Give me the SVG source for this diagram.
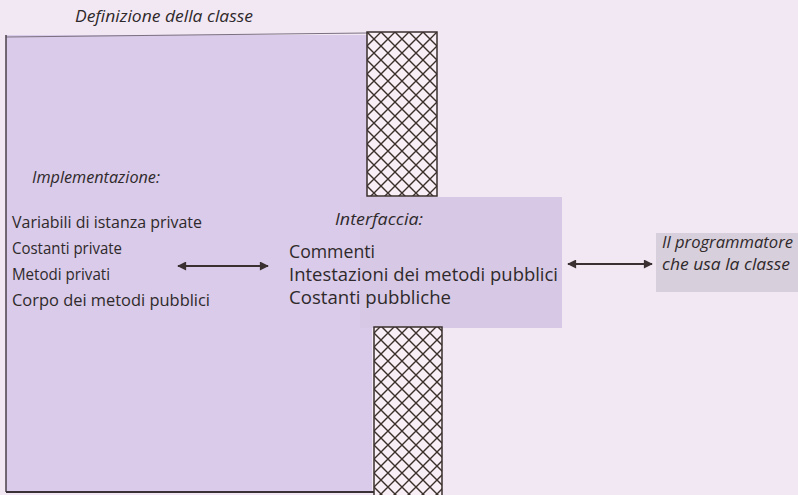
<svg xmlns="http://www.w3.org/2000/svg" width="798" height="495" viewBox="0 0 798 495">
  <style>
    .t { font-family: "Open Sans", "Noto Sans", "Liberation Sans", sans-serif; fill: #2f292b; }
    .it { font-style: italic; font-size: 16.5px; }
    .lst { font-size: 16.5px; }
    .ifc { font-size: 17.5px; }
    .col { fill: url(#hatch); stroke: #3a2f2c; stroke-width: 1.5; }
    .conn { stroke: #3a3032; stroke-width: 2; fill: none; marker-start: url(#ah); marker-end: url(#ah); }
  </style>
  <defs>
    <pattern id="hatch" patternUnits="userSpaceOnUse" x="367" y="32" width="14" height="14">
      <rect width="14" height="14" fill="#f7eef6"/>
      <path d="M0,0 L14,14 M14,0 L0,14" stroke="#3b2f2a" stroke-width="1.4"/>
    </pattern>
    <marker id="ah" viewBox="0 0 10 10" refX="9" refY="5" markerWidth="5.5" markerHeight="4.5" orient="auto-start-reverse" markerUnits="strokeWidth">
      <path d="M0,0 L10,5 L0,10 Z" fill="#3a3032"/>
    </marker>
  </defs>

  <rect width="798" height="495" fill="#f2e8f4"/>

  <g id="classe">
    <rect x="6" y="35" width="366" height="457" fill="#d9cbe9"/>
    <line x1="6" y1="37" x2="367" y2="33" stroke="#7a7080" stroke-width="1"/>
    <line x1="6" y1="35" x2="6" y2="492" stroke="#4a4048" stroke-width="1.5"/>
    <line x1="6" y1="492" x2="374" y2="492" stroke="#3a3038" stroke-width="2"/>
    <text class="t it" x="75" y="22" textLength="178" lengthAdjust="spacingAndGlyphs">Definizione della classe</text>
  </g>

  <g id="interfaccia">
    <rect x="360" y="197" width="202" height="131" fill="#d7c9e6"/>
    <text class="t it" x="335" y="225" textLength="88" lengthAdjust="spacingAndGlyphs">Interfaccia:</text>
    <text class="t ifc" x="289" y="258" textLength="86" lengthAdjust="spacingAndGlyphs">Commenti</text>
    <text class="t ifc" x="289" y="281" textLength="269" lengthAdjust="spacingAndGlyphs">Intestazioni dei metodi pubblici</text>
    <text class="t ifc" x="289" y="304" textLength="162" lengthAdjust="spacingAndGlyphs">Costanti pubbliche</text>
  </g>

  <g id="colonna-alta">
    <rect class="col" x="367" y="32" width="70" height="164"/>
  </g>
  <g id="colonna-bassa">
    <rect class="col" x="374" y="327" width="68" height="170"/>
  </g>

  <g id="implementazione">
    <text class="t it" x="32" y="183" textLength="128" lengthAdjust="spacingAndGlyphs">Implementazione:</text>
    <text class="t lst" x="12" y="228" textLength="190" lengthAdjust="spacingAndGlyphs">Variabili di istanza private</text>
    <text class="t lst" x="12" y="254" textLength="110" lengthAdjust="spacingAndGlyphs">Costanti private</text>
    <text class="t lst" x="12" y="280" textLength="98" lengthAdjust="spacingAndGlyphs">Metodi privati</text>
    <text class="t lst" x="12" y="306" textLength="198" lengthAdjust="spacingAndGlyphs">Corpo dei metodi pubblici</text>
  </g>

  <g id="programmatore">
    <rect x="656" y="233" width="142" height="59" fill="#d8cfdc"/>
    <text class="t it" x="662" y="248" textLength="131" lengthAdjust="spacingAndGlyphs">Il programmatore</text>
    <text class="t it" x="662" y="270" textLength="128" lengthAdjust="spacingAndGlyphs">che usa la classe</text>
  </g>

  <g id="connettori">
    <line class="conn" x1="178" y1="266" x2="268" y2="266"/>
    <line class="conn" x1="568" y1="264" x2="652" y2="264"/>
  </g>
</svg>
